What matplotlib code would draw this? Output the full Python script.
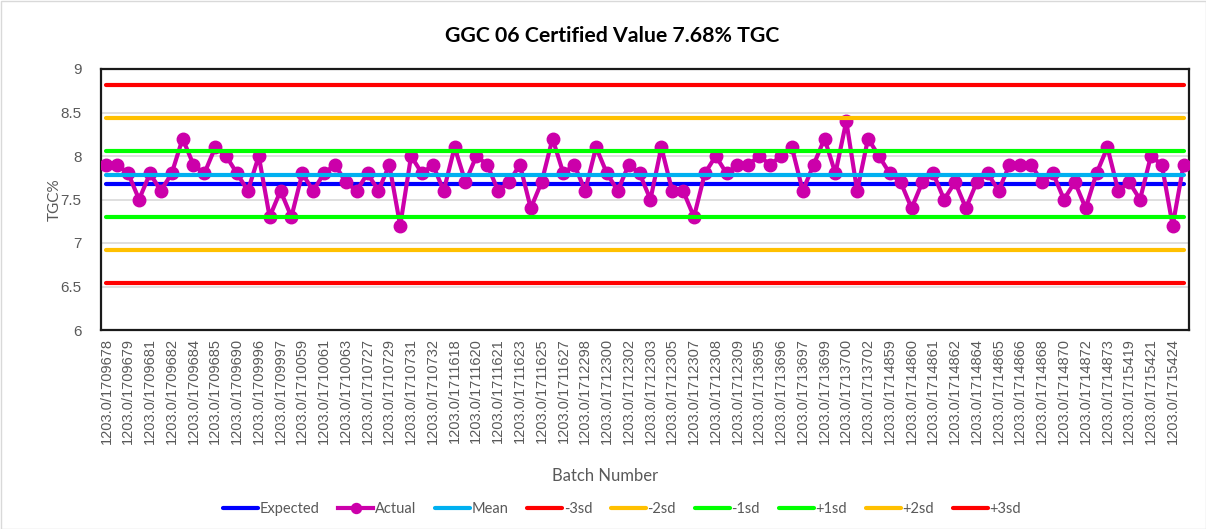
import matplotlib
matplotlib.use("Agg")
import matplotlib.pyplot as plt
from matplotlib.patches import Rectangle
import numpy as np

# ---- data ----
actual = [7.9, 7.9, 7.8, 7.5, 7.8, 7.6, 7.8, 8.2, 7.9, 7.8,
          8.1, 8.0, 7.8, 7.6, 8.0, 7.3, 7.6, 7.3, 7.8, 7.6,
          7.8, 7.9, 7.7, 7.6, 7.8, 7.6, 7.9, 7.2, 8.0, 7.8,
          7.9, 7.6, 8.1, 7.7, 8.0, 7.9, 7.6, 7.7, 7.9, 7.4,
          7.7, 8.2, 7.8, 7.9, 7.6, 8.1, 7.8, 7.6, 7.9, 7.8,
          7.5, 8.1, 7.6, 7.6, 7.3, 7.8, 8.0, 7.8, 7.9, 7.9,
          8.0, 7.9, 8.0, 8.1, 7.6, 7.9, 8.2, 7.8, 8.4, 7.6,
          8.2, 8.0, 7.8, 7.7, 7.4, 7.7, 7.8, 7.5, 7.7, 7.4,
          7.7, 7.8, 7.6, 7.9, 7.9, 7.9, 7.7, 7.8, 7.5, 7.7,
          7.4, 7.8, 8.1, 7.6, 7.7, 7.5, 8.0, 7.9, 7.2, 7.9]

tick_labels = ["1203.0/1709678", "1203.0/1709679", "1203.0/1709681", "1203.0/1709682",
               "1203.0/1709684", "1203.0/1709685", "1203.0/1709690", "1203.0/1709996",
               "1203.0/1709997", "1203.0/1710059", "1203.0/1710061", "1203.0/1710063",
               "1203.0/1710727", "1203.0/1710729", "1203.0/1710731", "1203.0/1710732",
               "1203.0/1711618", "1203.0/1711620", "1203.0/1711621", "1203.0/1711623",
               "1203.0/1711625", "1203.0/1711627", "1203.0/1712298", "1203.0/1712300",
               "1203.0/1712302", "1203.0/1712303", "1203.0/1712305", "1203.0/1712307",
               "1203.0/1712308", "1203.0/1712309", "1203.0/1713695", "1203.0/1713696",
               "1203.0/1713697", "1203.0/1713699", "1203.0/1713700", "1203.0/1713702",
               "1203.0/1714859", "1203.0/1714860", "1203.0/1714861", "1203.0/1714862",
               "1203.0/1714864", "1203.0/1714865", "1203.0/1714866", "1203.0/1714868",
               "1203.0/1714870", "1203.0/1714872", "1203.0/1714873", "1203.0/1715419",
               "1203.0/1715421", "1203.0/1715424"]

expected = 7.68
mean_value = 7.776
sd_names = ["-3sd", "-2sd", "-1sd", "+1sd", "+2sd", "+3sd"]
sd_levels = [6.54, 6.92, 7.30, 8.06, 8.44, 8.82]
sd_colors = ["#FF0000", "#FFC000", "#00FF00", "#00FF00", "#FFC000", "#FF0000"]

# ---- figure ----
fig = plt.figure(figsize=(12.06, 5.29), dpi=100)
ax = fig.add_axes([101/1206, 1-330/529, 1088/1206, 261/529])

n = len(actual)
x = np.arange(n)
lw = 3.0
ax.plot(x, [expected]*n, color="#0000FF", lw=lw, label="Expected", zorder=3, solid_capstyle="round")
ax.plot(x, actual, color="#CC00AA", lw=lw, marker="o", markersize=9, label="Actual", zorder=4)
ax.plot(x, [mean_value]*n, color="#00B0F0", lw=lw, label="Mean", zorder=5, solid_capstyle="round")
for name, lev, col in zip(sd_names, sd_levels, sd_colors):
    ax.plot(x, [lev]*n, color=col, lw=lw, label=name, zorder=6, solid_capstyle="round")

ax.set_xlim(-0.5, n-0.5)
ax.set_ylim(6, 9)
ax.set_yticks(np.arange(6, 9.01, 0.5))
ax.set_yticklabels(["6", "6.5", "7", "7.5", "8", "8.5", "9"])
ax.yaxis.grid(True, color="#D9D9D9", lw=1.2, zorder=0)
ax.set_axisbelow(True)
ax.set_xticks(x[::2][:len(tick_labels)])
ax.set_xticklabels(tick_labels, rotation=90, fontsize=10.5, color="#595959",
                   family="Liberation Sans")
ax.tick_params(axis="x", length=0, pad=6)
ax.tick_params(axis="y", length=0, pad=14, labelsize=11, labelcolor="#595959")
for lab in ax.get_yticklabels():
    lab.set_family("Liberation Sans")
for sp in ax.spines.values():
    sp.set_color("#1a1a1a")
    sp.set_linewidth(1.6)

fig.text(55/1206, 1-200/529, "TGC%", rotation=90, ha="center", va="center",
         fontsize=11, color="#595959", family="Lato")
fig.text(605/1206, 1-476/529, "Batch Number", ha="center", va="center",
         fontsize=12, color="#595959", family="Lato")
fig.text(612/1206, 1-36/529, "GGC 06 Certified Value 7.68% TGC", ha="center", va="center",
         fontsize=15.3, fontweight="bold", color="#000000", family="Lato")

leg = fig.legend(loc="center", bbox_to_anchor=(622/1206, 1-509/529), ncol=9, frameon=False,
                 prop={"family": "Lato", "size": 10.5}, handlelength=2.4, handletextpad=0.1,
                 columnspacing=1.3, markerscale=0.8)
for t in leg.get_texts():
    t.set_color("#595959")

fig.add_artist(Rectangle((0.5/1206, 0.5/529), 1-1/1206, 1-1/529, transform=fig.transFigure,
                         fill=False, edgecolor="#D9D9D9", lw=1))

fig.savefig("out.png", dpi=100)
